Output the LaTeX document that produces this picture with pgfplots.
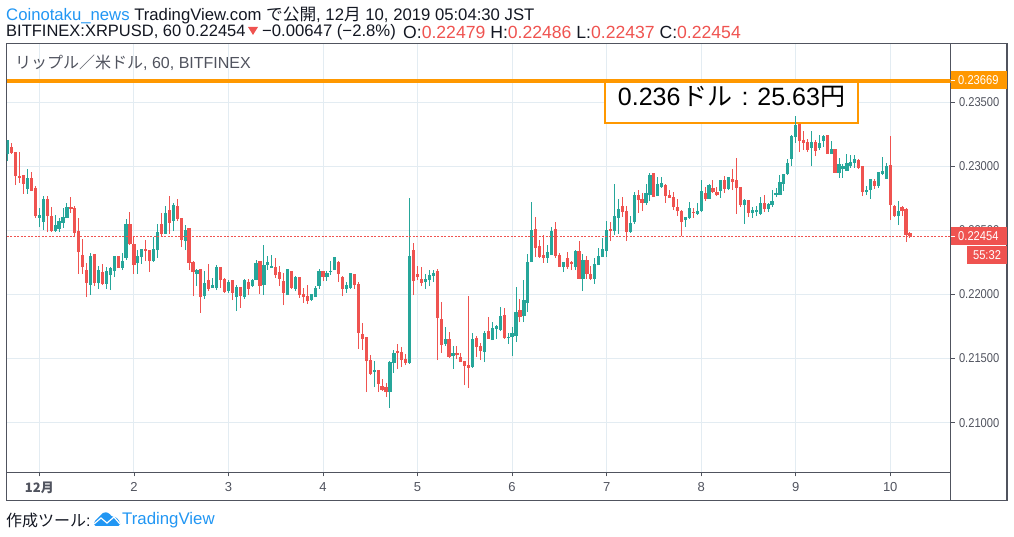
\documentclass[border=0pt]{standalone}
\usepackage{pgfplots}
\usepackage{pgfplotstable}
\pgfplotsset{compat=1.18}
\usepackage{fontspec}
\setmainfont{Liberation Sans}
\newfontfamily\cjk{Noto Sans CJK JP}
\newfontfamily\narrow[FakeStretch=0.87]{Liberation Sans}
\definecolor{upc}{HTML}{26A69A}
\definecolor{downc}{HTML}{EF5350}
\definecolor{gridc}{HTML}{E3ECF2}
\definecolor{framec}{HTML}{50535E}
\definecolor{orangec}{HTML}{FF9800}
\definecolor{bluec}{HTML}{2196F3}
\definecolor{textc}{HTML}{131722}
\pgfplotstableread{
x H T B L
-8 0.23205 0.23205 0.23096 0.23041
-3 0.22979 0.22909 0.22823 0.22784
0 0.22675 0.22620 0.22597 0.22526
1 0.22768 0.22745 0.22565 0.22503
4 0.22620 0.22542 0.22495 0.22487
5 0.22597 0.22573 0.22511 0.22487
6 0.22675 0.22604 0.22558 0.22519
7 0.22714 0.22682 0.22597 0.22597
13 0.22324 0.22300 0.22074 0.21996
15 0.22222 0.22191 0.22090 0.22043
17 0.22214 0.22183 0.22082 0.22043
18 0.22214 0.22207 0.22152 0.22035
19 0.22300 0.22300 0.22183 0.22136
21 0.22324 0.22261 0.22207 0.22191
22 0.22589 0.22550 0.22285 0.22269
25 0.22347 0.22300 0.22246 0.22160
26 0.22355 0.22355 0.22292 0.22238
29 0.22448 0.22355 0.22261 0.22253
30 0.22550 0.22487 0.22347 0.22285
32 0.22690 0.22636 0.22472 0.22472
34 0.22714 0.22698 0.22573 0.22495
37 0.22542 0.22503 0.22417 0.22347
40 0.22199 0.22191 0.22160 0.22066
42 0.22183 0.22090 0.21988 0.21965
44 0.22129 0.22074 0.22051 0.22051
45 0.22230 0.22214 0.22051 0.22035
48 0.22113 0.22097 0.22027 0.22012
50 0.22074 0.22058 0.21980 0.21871
52 0.22121 0.22113 0.21980 0.21965
54 0.22121 0.22113 0.22066 0.22058
55 0.22269 0.22246 0.22113 0.22113
57 0.22386 0.22230 0.22074 0.21996
58 0.22300 0.22253 0.22230 0.22191
59 0.22308 0.22222 0.22207 0.22207
63 0.22199 0.22199 0.21996 0.21996
65 0.22144 0.22136 0.22043 0.22027
69 0.22004 0.22004 0.21957 0.21949
70 0.22066 0.22051 0.21980 0.21980
71 0.22199 0.22183 0.22066 0.22043
73 0.22183 0.22168 0.22136 0.22105
74 0.22261 0.22183 0.22175 0.22152
75 0.22292 0.22292 0.22191 0.22191
78 0.22097 0.22074 0.22043 0.22012
79 0.22168 0.22168 0.22051 0.22043
85 0.21481 0.21411 0.21395 0.21278
89 0.21481 0.21473 0.21239 0.21115
90 0.21567 0.21544 0.21466 0.21388
94 0.22753 0.22300 0.21466 0.21458
98 0.22160 0.22121 0.22097 0.22043
99 0.22191 0.22152 0.22113 0.22066
100 0.22191 0.22168 0.22144 0.22097
103 0.21746 0.21653 0.21614 0.21598
105 0.21598 0.21544 0.21520 0.21419
110 0.21700 0.21653 0.21434 0.21427
113 0.21715 0.21700 0.21551 0.21473
115 0.21785 0.21739 0.21645 0.21645
116 0.21762 0.21754 0.21731 0.21653
117 0.21902 0.21832 0.21723 0.21715
119 0.21700 0.21668 0.21661 0.21614
120 0.21746 0.21700 0.21668 0.21520
121 0.22058 0.21863 0.21676 0.21629
123 0.22113 0.21957 0.21832 0.21785
124 0.22316 0.22253 0.21934 0.21863
125 0.22721 0.22503 0.22253 0.22253
129 0.22386 0.22331 0.22285 0.22246
130 0.22526 0.22495 0.22308 0.22308
133 0.22253 0.22253 0.22214 0.22175
136 0.22347 0.22339 0.22214 0.22191
138 0.22316 0.22269 0.22121 0.22027
141 0.22285 0.22238 0.22121 0.22082
142 0.22363 0.22300 0.22230 0.22230
143 0.22441 0.22355 0.22292 0.22292
144 0.22573 0.22503 0.22339 0.22292
146 0.22862 0.22612 0.22495 0.22464
147 0.22745 0.22667 0.22597 0.22472
150 0.22612 0.22558 0.22487 0.22480
151 0.22799 0.22776 0.22565 0.22550
154 0.22862 0.22792 0.22714 0.22698
155 0.22948 0.22932 0.22776 0.22729
157 0.22916 0.22862 0.22768 0.22768
158 0.22916 0.22870 0.22838 0.22831
164 0.22604 0.22604 0.22581 0.22526
165 0.22721 0.22675 0.22597 0.22589
167 0.22714 0.22651 0.22628 0.22620
168 0.22893 0.22807 0.22651 0.22643
170 0.22862 0.22854 0.22745 0.22745
173 0.22893 0.22893 0.22807 0.22753
175 0.22916 0.22916 0.22823 0.22815
179 0.22745 0.22737 0.22698 0.22550
181 0.22682 0.22659 0.22636 0.22597
182 0.22690 0.22659 0.22643 0.22612
183 0.22760 0.22714 0.22628 0.22620
185 0.22714 0.22706 0.22667 0.22643
186 0.22815 0.22729 0.22698 0.22682
187 0.22831 0.22792 0.22776 0.22760
188 0.22932 0.22877 0.22776 0.22776
189 0.22940 0.22940 0.22862 0.22807
190 0.23057 0.23026 0.22940 0.22932
191 0.23244 0.23236 0.23057 0.23002
192 0.23392 0.23322 0.23228 0.23182
196 0.23275 0.23189 0.23143 0.23002
198 0.23244 0.23182 0.23143 0.23127
199 0.23244 0.23236 0.23197 0.23150
201 0.23197 0.23135 0.23096 0.23096
203 0.23065 0.23018 0.22948 0.22909
204 0.23018 0.23002 0.22979 0.22909
205 0.23096 0.23026 0.22963 0.22963
206 0.23088 0.23033 0.23002 0.22987
207 0.23088 0.23057 0.23026 0.22987
210 0.22846 0.22815 0.22799 0.22776
211 0.22901 0.22901 0.22815 0.22745
213 0.22955 0.22955 0.22846 0.22831
214 0.23072 0.22963 0.22940 0.22932
215 0.23026 0.23002 0.22901 0.22901
218 0.22729 0.22651 0.22612 0.22542
}\uptable
\pgfplotstableread{
x H T B L
-7 0.23179 0.23150 0.23104 0.23096
-6 0.23111 0.23111 0.22924 0.22854
-5 0.23111 0.22924 0.22909 0.22870
-4 0.22932 0.22932 0.22862 0.22784
-2 0.22955 0.22909 0.22807 0.22807
-1 0.22846 0.22831 0.22612 0.22597
2 0.22768 0.22745 0.22612 0.22487
3 0.22682 0.22612 0.22495 0.22487
8 0.22760 0.22682 0.22667 0.22636
9 0.22690 0.22675 0.22480 0.22448
10 0.22597 0.22495 0.22331 0.22160
11 0.22433 0.22308 0.22214 0.22160
12 0.22246 0.22191 0.22090 0.21980
14 0.22316 0.22316 0.22090 0.22066
16 0.22238 0.22175 0.22082 0.22074
20 0.22300 0.22300 0.22207 0.22207
23 0.22643 0.22550 0.22394 0.22386
24 0.22448 0.22394 0.22230 0.22160
27 0.22425 0.22355 0.22339 0.22261
28 0.22347 0.22347 0.22261 0.22175
31 0.22636 0.22550 0.22472 0.22456
33 0.22768 0.22659 0.22558 0.22472
35 0.22745 0.22690 0.22589 0.22573
36 0.22597 0.22597 0.22425 0.22370
38 0.22519 0.22519 0.22246 0.22191
39 0.22261 0.22253 0.22175 0.21988
41 0.22199 0.22199 0.21980 0.21856
43 0.22238 0.22113 0.22043 0.22027
46 0.22214 0.22214 0.22113 0.22051
47 0.22129 0.22121 0.22019 0.22012
49 0.22113 0.22113 0.22012 0.21957
51 0.22058 0.22058 0.21988 0.21895
53 0.22121 0.22097 0.22043 0.21996
56 0.22261 0.22261 0.22066 0.22004
60 0.22285 0.22214 0.22152 0.22129
61 0.22222 0.22175 0.22121 0.22066
62 0.22168 0.22105 0.22012 0.21918
64 0.22183 0.22183 0.22051 0.22043
66 0.22136 0.22136 0.21996 0.21973
67 0.22051 0.22004 0.21980 0.21934
68 0.22074 0.21988 0.21949 0.21926
72 0.22183 0.22183 0.22136 0.22105
76 0.22261 0.22253 0.22160 0.22097
77 0.22144 0.22136 0.22043 0.21988
80 0.22160 0.22160 0.22074 0.22043
81 0.22097 0.22082 0.21700 0.21575
82 0.21778 0.21692 0.21653 0.21567
83 0.21668 0.21668 0.21481 0.21239
84 0.21528 0.21489 0.21380 0.21372
86 0.21411 0.21411 0.21302 0.21239
87 0.21341 0.21286 0.21255 0.21247
88 0.21310 0.21278 0.21239 0.21200
91 0.21614 0.21559 0.21544 0.21419
92 0.21590 0.21551 0.21489 0.21434
93 0.21536 0.21497 0.21466 0.21450
95 0.22402 0.22347 0.22105 0.21996
96 0.22222 0.22160 0.22136 0.22113
97 0.22214 0.22121 0.22090 0.22066
101 0.22199 0.22183 0.21817 0.21489
102 0.21941 0.21809 0.21606 0.21544
104 0.21707 0.21653 0.21512 0.21505
106 0.21598 0.21544 0.21528 0.21497
107 0.21544 0.21512 0.21473 0.21473
108 0.21481 0.21481 0.21442 0.21294
109 0.21988 0.21450 0.21427 0.21271
111 0.21676 0.21661 0.21590 0.21512
112 0.21622 0.21598 0.21559 0.21489
114 0.21824 0.21715 0.21653 0.21653
118 0.21895 0.21840 0.21661 0.21653
122 0.21965 0.21879 0.21824 0.21785
126 0.22604 0.22511 0.22363 0.22292
127 0.22425 0.22378 0.22292 0.22285
128 0.22464 0.22308 0.22285 0.22246
131 0.22565 0.22511 0.22300 0.22285
132 0.22324 0.22308 0.22214 0.22214
134 0.22331 0.22285 0.22214 0.22199
135 0.22261 0.22253 0.22238 0.22191
137 0.22417 0.22339 0.22121 0.22121
139 0.22300 0.22269 0.22160 0.22121
140 0.22222 0.22160 0.22121 0.22113
145 0.22565 0.22511 0.22495 0.22417
148 0.22760 0.22690 0.22643 0.22604
149 0.22690 0.22651 0.22487 0.22417
152 0.22815 0.22776 0.22737 0.22636
153 0.22792 0.22745 0.22714 0.22651
156 0.22948 0.22948 0.22760 0.22760
159 0.22862 0.22854 0.22768 0.22714
160 0.22815 0.22776 0.22753 0.22753
161 0.22799 0.22760 0.22682 0.22659
162 0.22745 0.22682 0.22651 0.22612
163 0.22659 0.22651 0.22565 0.22454
166 0.22675 0.22643 0.22636 0.22597
169 0.22838 0.22792 0.22745 0.22729
171 0.22893 0.22831 0.22799 0.22792
172 0.22838 0.22799 0.22776 0.22768
174 0.22924 0.22893 0.22823 0.22792
176 0.22979 0.22901 0.22877 0.22815
177 0.23065 0.22893 0.22831 0.22628
178 0.22838 0.22838 0.22698 0.22682
180 0.22737 0.22737 0.22636 0.22604
184 0.22776 0.22714 0.22667 0.22643
193 0.23330 0.23330 0.23197 0.23111
194 0.23275 0.23205 0.23182 0.23127
195 0.23213 0.23189 0.23127 0.23111
197 0.23205 0.23189 0.23119 0.23080
200 0.23244 0.23244 0.23096 0.23096
202 0.23135 0.23135 0.22948 0.22948
208 0.23057 0.23049 0.22987 0.22979
209 0.23002 0.23002 0.22799 0.22768
212 0.22901 0.22885 0.22846 0.22823
216 0.23236 0.23010 0.22698 0.22581
217 0.22698 0.22690 0.22612 0.22604
219 0.22690 0.22682 0.22651 0.22612
220 0.22675 0.22667 0.22464 0.22409
221 0.22486 0.22479 0.22454 0.22437
}\downtable
\pgfplotsset{
  wick/.style={draw=none,no markers,error bars/.cd,y dir=plus,y explicit,error mark=none,
    error bar style={/tikz/draw=#1,/tikz/line width=1pt,/tikz/solid}},
  body/.style={draw=none,no markers,error bars/.cd,y dir=plus,y explicit,error mark=none,
    error bar style={/tikz/draw=#1,/tikz/line width=3.2pt,/tikz/solid}},
}
\begin{document}
\begin{tikzpicture}
\useasboundingbox (0,0) rectangle (1014pt,537pt);
\begin{axis}[
  at={(6.5pt,64.7pt)}, anchor=south west,
  scale only axis, width=944pt, height=429pt,
  xmin=-8.35, xmax=231.3, ymin=0.206131, ymax=0.239594,
  clip=true,
  axis line style={color=framec,line width=1.2pt},
  grid=major, major grid style={color=gridc,line width=0.9pt},
  tick style={color=framec,line width=0.8pt},
  major tick length=4pt, tick align=outside,
  xtick pos=bottom, ytick pos=right, yticklabel pos=right,
  xtick={0,24,48,72,96,120,144,168,192,216},
  xticklabels={{\cjk\bfseries 12月},2,3,4,5,6,7,8,9,10},
  xticklabel style={font=\fontsize{13pt}{15pt}\selectfont,text=framec,yshift=-2.5pt},
  ytick={0.21,0.215,0.22,0.225,0.23,0.235},
  scaled y ticks=false,
  yticklabel style={font=\narrow\fontsize{12.8pt}{14pt}\selectfont,text=framec,xshift=1pt,
    /pgf/number format/.cd,fixed,fixed zerofill,precision=5,assume math mode=true},
]
% annotation box, under the candles
\addplot[draw=orangec,fill=white,line width=1.8pt] coordinates {(143.6,0.23665)(207.8,0.23665)(207.8,0.23337)(143.6,0.23337)} -- cycle;
% wicks and bodies
\addplot[wick=upc] table[x=x,y=L,y error plus expr=\thisrow{H}-\thisrow{L}]{\uptable};
\addplot[body=upc] table[x=x,y=B,y error plus expr=\thisrow{T}-\thisrow{B}]{\uptable};
\addplot[wick=downc] table[x=x,y=L,y error plus expr=\thisrow{H}-\thisrow{L}]{\downtable};
\addplot[body=downc] table[x=x,y=B,y error plus expr=\thisrow{T}-\thisrow{B}]{\downtable};
% horizontal lines
\addplot[color=orangec,line width=4pt] coordinates {(-8.35,0.23669)(231.3,0.23669)};
\addplot[color=downc,line width=0.8pt,dash pattern=on 2pt off 1.5pt] coordinates {(-8.35,0.22454)(231.3,0.22454)};
\end{axis}
\begin{scope}[x=1pt,y=-1pt,shift={(0pt,537pt)}]
% price-scale frame
\draw[framec,line width=1.2pt] (950.5,43.5) -- (1007,43.5) -- (1007,500.5) -- (6.5,500.5) -- (6.5,472);
\draw[framec,line width=1.2pt] (950.5,472) -- (950.5,500.5);
% right labels
\fill[orangec] (951,71) rectangle (1007,89);
\draw[white,line width=0.8pt] (951,80) -- (955,80);
\node[anchor=west,inner sep=0,text=white,font=\narrow\fontsize{12.8pt}{14pt}\selectfont] at (958,80) {0.23669};
\fill[downc] (951,227) rectangle (1007,245);
\draw[white,line width=0.8pt] (951,236.4) -- (955,236.4);
\node[anchor=west,inner sep=0,text=white,font=\narrow\fontsize{12.8pt}{14pt}\selectfont] at (958,236) {0.22454};
\fill[downc] (967,246) rectangle (1007,264);
\node[anchor=center,inner sep=0,text=white,font=\narrow\fontsize{12.8pt}{14pt}\selectfont] at (987,255) {55:32};
% box text
\node[anchor=center,inner sep=0,text=black,font=\fontsize{25pt}{28pt}\selectfont] at (731.5,97) {0.236\hspace{2pt}{\cjk ドル}\hspace{9pt}:\hspace{9pt}25.63{\cjk 円}};
% watermark
\node[anchor=west,inner sep=0,text=framec,font=\fontsize{16pt}{18pt}\selectfont] at (15,63) {{\cjk リップル／米ドル}, 60, BITFINEX};
% header
\node[anchor=west,inner sep=0,text=textc,font=\fontsize{16.7pt}{18pt}\selectfont] at (6,15) {\textcolor{bluec}{Coinotaku\_news} TradingView.com {\cjk で公開}, 12{\cjk 月} 10, 2019 05:04:30 JST};
\node[anchor=west,inner sep=0,text=textc,font=\fontsize{16.5pt}{18pt}\selectfont] at (6,32) {BITFINEX:XRPUSD, 60 0.22454};
\fill[downc] (248,27) -- (258,27) -- (253,35) -- cycle;
\node[anchor=west,inner sep=0,text=textc,font=\fontsize{16.7pt}{18pt}\selectfont] at (262,32) {−0.00647 (−2.8\%)};
\node[anchor=west,inner sep=0,text=textc,font=\fontsize{17.6pt}{18pt}\selectfont] at (403,32) {O:\textcolor{downc}{0.22479} H:\textcolor{downc}{0.22486} L:\textcolor{downc}{0.22437} C:\textcolor{downc}{0.22454}};
% footer
\node[anchor=west,inner sep=0,text=textc,font=\fontsize{16pt}{18pt}\selectfont] at (6,520) {{\cjk 作成ツール}:};
\fill[bluec,rounded corners=1.5pt] (94,526) -- (94,522) -- (100,516) -- (104,512) -- (109,513) -- (112,517) -- (116,517) -- (120,522) -- (120,526) -- cycle;
\draw[white,line width=1.2pt] (94,524) -- (101,518) -- (107,523) -- (114,517) -- (120,524);
\node[anchor=west,inner sep=0,text=bluec,font=\fontsize{16.8pt}{18pt}\selectfont] at (122,520) {TradingView};
\end{scope}
\end{tikzpicture}
\end{document}
